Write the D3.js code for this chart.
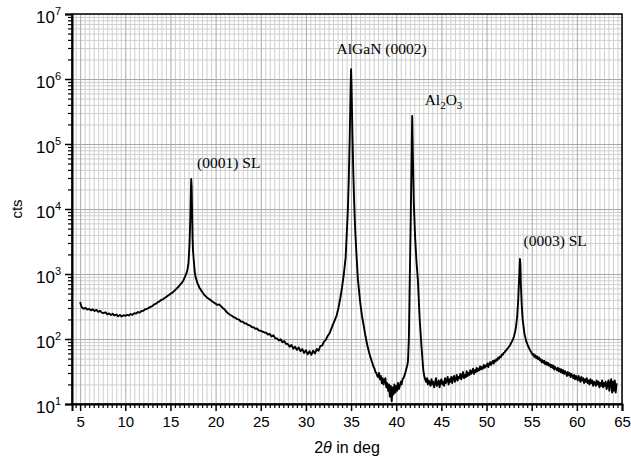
<!DOCTYPE html>
<html><head><meta charset="utf-8">
<script src="https://cdn.jsdelivr.net/npm/d3@7"></script>
<style>
html,body{margin:0;padding:0;background:#fff;}
svg{display:block;}
</style></head>
<body>
<svg id="chart" width="631" height="463"></svg>
<script>
// ---- data ----
const xMajorTicks = [5,10,15,20,25,30,35,40,45,50,55,60,65];
const yDecades = [10,100,1000,1e4,1e5,1e6,1e7];
const yExponents = [1,2,3,4,5,6,7];
// label anchor: 2θ position and log10(cts) of baseline
const peakLabels = [
  {text:"(0001) SL", x:17.95, y:4.63},
  {text:"AlGaN (0002)", x:33.4, y:6.38},
  {text:"(0003) SL", x:54.1, y:3.43}
];
// 2θ (deg), counts
const scan = [
[5.0,370],[5.1,330],[5.2,305],[5.4,292],[5.6,300],[5.8,284],[6.0,290],[6.2,276],[6.4,286],[6.6,270],
[6.8,280],[7.0,262],[7.2,272],[7.4,255],[7.6,250],[7.8,258],[8.0,240],[8.2,248],[8.4,234],[8.6,244],
[8.8,230],[9.0,238],[9.2,224],[9.4,234],[9.6,222],[9.8,232],[10.0,226],[10.2,236],[10.4,230],[10.6,242],
[10.8,236],[11.0,250],[11.2,246],[11.4,260],[11.6,254],[11.8,270],[12.0,272],[12.2,286],[12.4,290],[12.6,302],
[12.8,312],[13.0,322],[13.2,340],[13.4,350],[13.6,368],[13.8,380],[14.0,400],[14.2,412],[14.4,430],[14.6,452],
[14.8,470],[15.0,495],[15.2,515],[15.4,545],[15.6,580],[15.8,620],[16.0,665],[16.2,715],[16.4,780],[16.6,900],
[16.8,1050],[16.9,1200],[17.0,1500],[17.1,2600],[17.2,7000],[17.25,15000],[17.3,29000],[17.35,22000],[17.4,9000],[17.45,3500],
[17.5,2300],[17.6,1500],[17.7,1050],[17.8,880],[18.0,720],[18.2,620],[18.4,560],[18.6,510],[18.8,470],[19.0,440],
[19.2,420],[19.4,400],[19.6,380],[19.8,365],[20.0,350],[20.2,334],[20.4,340],[20.6,320],[20.8,300],[21.0,285],
[21.2,262],[21.4,247],[21.6,236],[21.8,228],[22.0,217],[22.2,212],[22.4,202],[22.6,198],[22.8,186],[23.0,185],
[23.2,175],[23.4,173],[23.6,164],[23.8,162],[24.0,153],[24.2,152],[24.4,144],[24.6,145],[24.8,135],[25.0,134],
[25.2,130],[25.4,126],[25.6,125],[25.8,117],[26.0,120],[26.2,109],[26.4,114],[26.6,103],[26.8,102],[27.0,95],
[27.2,99],[27.4,89],[27.6,93],[27.8,84],[28.0,84],[28.2,76],[28.4,81],[28.6,71],[28.8,76],[29.0,68],
[29.2,74],[29.4,65],[29.6,70],[29.8,61],[30.0,67],[30.2,58],[30.4,65],[30.6,57],[30.8,66],[31.0,60],
[31.2,70],[31.4,66],[31.6,78],[31.8,79],[32.0,91],[32.2,97],[32.4,111],[32.6,121],[32.8,142],[33.0,168],
[33.2,195],[33.4,230],[33.6,300],[33.8,420],[34.0,620],[34.2,1000],[34.4,1800],[34.55,5000],[34.65,10000],[34.75,30000],
[34.85,120000],[34.95,700000],[35.0,1420000],[35.05,800000],[35.15,150000],[35.25,35000],[35.35,12000],[35.45,5000],[35.6,2000],[35.75,850],
[36.0,380],[36.2,230],[36.4,160],[36.6,110],[36.8,80],[37.0,62],[37.1,55],[37.2,50],[37.3,45],[37.4,41],
[37.5,37],[37.6,35],[37.7,31],[37.8,30],[37.9,27],
[38.0,26],[38.1,30],[38.2,24],[38.3,27],[38.4,21],[38.5,25],[38.6,20],[38.7,23],[38.8,25],[38.9,18],
[39.0,21],[39.1,16],[39.2,20],[39.3,13],[39.4,19],[39.5,11],[39.6,18],[39.7,14],[39.8,20],[39.9,15],
[40.0,19],[40.1,16],[40.2,21],[40.3,17],[40.4,19],[40.5,22],[40.6,20],[40.7,24],[40.8,25],[40.9,27],
[41.0,30],[41.1,34],[41.2,38],[41.3,45],[41.4,100],[41.5,800],[41.6,6000],[41.7,60000],[41.77,270000],[41.85,60000],
[41.95,12000],[42.1,3500],[42.25,1500],[42.4,800],[42.6,200],[42.8,76],
[43.0,33],[43.1,27],[43.2,24],[43.3,22],[43.4,25],[43.5,20],[43.6,23],[43.7,21],[43.8,19],[43.9,24],
[44.0,20],[44.1,22],[44.2,18],[44.3,21],[44.4,25],[44.5,19],[44.6,21],[44.7,23],[44.8,18],[44.9,22],
[45.0,24],[45.1,20],[45.2,22],[45.3,19],[45.4,25],[45.5,21],[45.6,23],[45.7,26],[45.8,20],[45.9,24],
[46.0,22],[46.1,26],[46.2,21],[46.3,25],[46.4,27],[46.5,22],[46.6,24],[46.7,28],[46.8,23],[46.9,26],
[47.0,25],[47.1,29],[47.2,24],[47.3,27],[47.4,31],[47.5,25],[47.6,28],[47.7,26],[47.8,32],[47.9,27],
[48.0,30],[48.1,28],[48.2,33],[48.3,29],[48.4,31],[48.5,35],[48.6,29],[48.7,33],[48.8,31],[48.9,36],
[49.0,32],[49.1,35],[49.2,33],[49.3,38],[49.4,34],[49.5,37],[49.6,35],[49.7,40],[49.8,36],[49.9,39],
[50.0,38],[50.1,42],[50.2,37],[50.3,41],[50.4,44],[50.5,40],[50.6,43],[50.7,46],[50.8,42],[50.9,47],
[51.0,45],[51.1,49],[51.2,47],[51.3,52],[51.4,50],[51.5,54],[51.6,53],[51.7,58],[51.8,57],[51.9,61],
[52.0,62],[52.1,66],[52.2,67],[52.3,71],[52.4,73],[52.5,77],[52.6,80],[52.7,86],[52.8,91],[52.9,97],
[53.0,105],[53.2,135],[53.3,170],[53.4,230],[53.5,380],[53.6,800],[53.7,1700],[53.75,1400],[53.8,700],[53.9,330],
[54.0,200],[54.2,120],[54.4,92],[54.6,78],[54.8,68],
[55.0,61],[55.1,57],[55.2,59],[55.3,53],[55.4,56],[55.5,51],[55.6,54],[55.7,49],[55.8,52],[55.9,47],
[56.0,49],[56.1,44],[56.2,47],[56.3,43],[56.4,46],[56.5,41],[56.6,44],[56.7,40],[56.8,43],[56.9,39],
[57.0,41],[57.1,37],[57.2,40],[57.3,36],[57.4,39],[57.5,34],[57.6,37],[57.7,35],[57.8,33],[57.9,36],
[58.0,32],[58.1,35],[58.2,31],[58.3,34],[58.4,30],[58.5,33],[58.6,29],[58.7,32],[58.8,30],[58.9,27],
[59.0,31],[59.1,28],[59.2,30],[59.3,26],[59.4,29],[59.5,27],[59.6,25],[59.7,28],[59.8,24],[59.9,27],
[60.0,25],[60.1,23],[60.2,27],[60.3,24],[60.4,22],[60.5,26],[60.6,23],[60.7,25],[60.8,21],[60.9,24],
[61.0,22],[61.1,25],[61.2,21],[61.3,23],[61.4,20],[61.5,24],[61.6,21],[61.7,23],[61.8,19],[61.9,22],
[62.0,21],[62.1,19],[62.2,23],[62.3,20],[62.4,22],[62.5,18],[62.6,21],[62.7,19],[62.8,23],[62.9,18],
[63.0,21],[63.1,19],[63.2,22],[63.3,17],[63.4,20],[63.5,23],[63.6,16],[63.7,21],[63.8,24],[63.9,15],
[64.0,22],[64.1,16],[64.2,23],[64.3,15],[64.4,21]
];

// ---- layout ----
const L = 72, R = 622, T = 14, B = 404;
const svg = d3.select("#chart");
const x = d3.scaleLinear().domain([4.1, 65]).range([L, R]);
const y = d3.scaleLog().domain([10, 1e7]).range([B, T]);

const xHalf = d3.range(4.5, 65.01, 0.5);
const yMinor = [];
yDecades.slice(0, -1).forEach(d => { for (let k = 2; k <= 9; k++) yMinor.push(d * k); });

// grid: minor
svg.append("g").attr("transform", `translate(0,${B})`)
  .call(d3.axisBottom(x).tickValues(xHalf.filter(v => v % 5 !== 0)).tickSize(-(B - T)).tickFormat(""))
  .call(g => g.select(".domain").remove())
  .call(g => g.selectAll("line").attr("stroke", "#cfcfcf").attr("stroke-width", 1));
svg.append("g").attr("transform", `translate(${L},0)`)
  .call(d3.axisLeft(y).tickValues(yMinor).tickSize(-(R - L)).tickFormat(""))
  .call(g => g.select(".domain").remove())
  .call(g => g.selectAll("line").attr("stroke", "#cfcfcf").attr("stroke-width", 1));
// grid: major
svg.append("g").attr("transform", `translate(0,${B})`)
  .call(d3.axisBottom(x).tickValues(xMajorTicks).tickSize(-(B - T)).tickFormat(""))
  .call(g => g.select(".domain").remove())
  .call(g => g.selectAll("line").attr("stroke", "#a8a8a8").attr("stroke-width", 1));
svg.append("g").attr("transform", `translate(${L},0)`)
  .call(d3.axisLeft(y).tickValues(yDecades).tickSize(-(R - L)).tickFormat(""))
  .call(g => g.select(".domain").remove())
  .call(g => g.selectAll("line").attr("stroke", "#a8a8a8").attr("stroke-width", 1));

// data line
const line = d3.line().x(d => x(d[0])).y(d => y(d[1]));
svg.append("path").datum(scan).attr("d", line)
  .attr("fill", "none").attr("stroke", "#000").attr("stroke-width", 1.9)
  .attr("stroke-linejoin", "round");

// frame
svg.append("rect").attr("x", L).attr("y", T).attr("width", R - L).attr("height", B - T)
  .attr("fill", "none").attr("stroke", "#111").attr("stroke-width", 1.6);

// ticks x
svg.append("g").attr("transform", `translate(0,${B})`)
  .call(d3.axisBottom(x).tickValues(xHalf.filter(v => v % 5 !== 0)).tickSize(4).tickFormat(""))
  .call(g => g.select(".domain").remove())
  .call(g => g.selectAll("line").attr("stroke", "#000").attr("stroke-width", 1.2));
svg.append("g").attr("transform", `translate(0,${B})`)
  .call(d3.axisBottom(x).tickValues(xMajorTicks).tickSize(7).tickPadding(5).tickFormat(d3.format("d")))
  .call(g => g.select(".domain").attr("stroke", "#000").attr("stroke-width", 2))
  .call(g => g.selectAll("line").attr("stroke", "#000").attr("stroke-width", 1.5))
  .call(g => g.selectAll("text").attr("font-family", "Liberation Sans, Arial, sans-serif")
    .attr("font-size", 15).attr("fill", "#000"));

// ticks y
svg.append("g").attr("transform", `translate(${L},0)`)
  .call(d3.axisLeft(y).tickValues(yMinor).tickSize(4).tickFormat(""))
  .call(g => g.select(".domain").remove())
  .call(g => g.selectAll("line").attr("stroke", "#000").attr("stroke-width", 1.2));
const yAx = svg.append("g").attr("transform", `translate(${L},0)`)
  .call(d3.axisLeft(y).tickValues(yDecades).tickSize(7).tickFormat(""))
  .call(g => g.select(".domain").attr("stroke", "#000").attr("stroke-width", 2))
  .call(g => g.selectAll("line").attr("stroke", "#000").attr("stroke-width", 1.5));
yAx.selectAll(".tick").each(function(d, i) {
  const t = d3.select(this).append("text")
    .attr("x", -11).attr("y", 8)
    .attr("text-anchor", "end")
    .attr("font-family", "Liberation Sans, Arial, sans-serif")
    .attr("font-size", 17).attr("fill", "#000");
  t.append("tspan").text("10");
  t.append("tspan").attr("dy", -8).attr("font-size", 11).text(yExponents[i]);
});

// axis titles
const xt = svg.append("text").attr("x", (L + R) / 2).attr("y", 453)
  .attr("text-anchor", "middle")
  .attr("font-family", "Liberation Sans, Arial, sans-serif").attr("font-size", 16);
xt.append("tspan").text("2");
xt.append("tspan").attr("font-style", "italic").text("θ");
xt.append("tspan").text(" in deg");
svg.append("text").attr("transform", `translate(22,${(T + B) / 2}) rotate(-90)`)
  .attr("text-anchor", "middle")
  .attr("font-family", "Liberation Sans, Arial, sans-serif").attr("font-size", 15).text("cts");

// peak annotations
const serif = "Liberation Serif, Times New Roman, serif";
svg.selectAll(".plabel").data(peakLabels).enter().append("text")
  .attr("class", "plabel")
  .attr("x", d => x(d.x))
  .attr("y", d => y(Math.pow(10, d.y)))
  .attr("font-family", serif).attr("font-size", 15.5).attr("fill", "#000")
  .text(d => d.text);
// Al2O3 with subscripts
const al = svg.append("text").attr("x", x(43.15)).attr("y", y(Math.pow(10, 5.6)))
  .attr("font-family", serif).attr("font-size", 15.5).attr("fill", "#000");
al.append("tspan").text("Al");
al.append("tspan").attr("dy", 4).attr("font-size", 11).text("2");
al.append("tspan").attr("dy", -4).text("O");
al.append("tspan").attr("dy", 4).attr("font-size", 11).text("3");
</script>
</body></html>
